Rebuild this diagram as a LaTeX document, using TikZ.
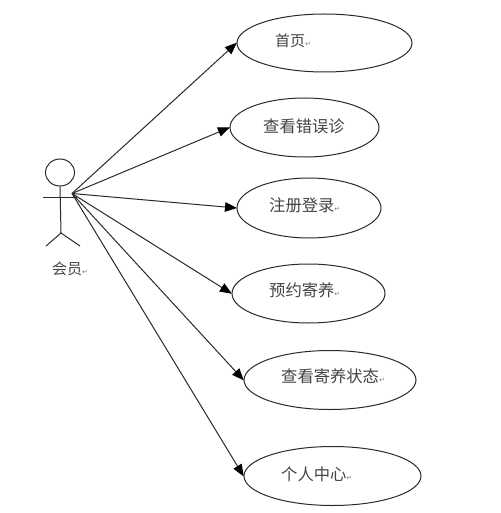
\documentclass[tikz,border=0pt]{standalone}
\usepackage{fontspec}
\setmainfont{Noto Sans CJK SC}
\newfontfamily\markfont{DejaVu Sans}
\usetikzlibrary{shapes.geometric,arrows.meta}
\definecolor{ink}{HTML}{2A2A2A}
\definecolor{txt}{HTML}{444444}
\newcommand{\retmark}{{\markfont\fontsize{7pt}{7pt}\selectfont\textcolor{gray}{↵}}}
\tikzset{
  usecase/.style={ellipse,draw=ink,line width=1pt,fill=white,inner sep=0pt},
  lbl/.style={text=txt,font=\fontsize{16.3pt}{16.3pt}\selectfont,inner sep=0pt,anchor=west},
  lblsmall/.style={lbl,font=\fontsize{15pt}{15pt}\selectfont},
  conn/.style={draw=ink,line width=1pt,-{Triangle[length=12pt,width=9.5pt,color=black]},shorten >=-0.5pt},
  stick/.style={draw=ink,line width=1pt}
}
\begin{document}
\begin{tikzpicture}[x=1pt,y=-1pt]
\useasboundingbox (0,0) rectangle (500,513);
\fill[white] (0,0) rectangle (500,513);
% use cases
\node[usecase,minimum width=175pt,minimum height=58pt] (u1) at (324.5,43) {};
\node[usecase,minimum width=149pt,minimum height=59pt] (u2) at (304.5,127.5) {};
\node[usecase,minimum width=144pt,minimum height=60pt] (u3) at (309,208) {};
\node[usecase,minimum width=153pt,minimum height=59pt] (u4) at (308.5,293.5) {};
\node[usecase,minimum width=172pt,minimum height=59pt] (u5) at (330,380) {};
\node[usecase,minimum width=177pt,minimum height=59pt] (u6) at (332.5,476) {};
% labels
\node[lblsmall] (t1) at (275,41) {首页\retmark};
\node[lbl] (t2) at (263,126) {查看错误诊};
\node[lbl] (t3) at (269,205) {注册登录\retmark};
\node[lbl] (t4) at (269,290) {预约寄养\retmark};
\node[lbl] (t5) at (281,376) {查看寄养状态\retmark};
\node[lbl] (t6) at (281,474) {个人中心\retmark};
\node[lblsmall] (t0) at (52,269) {会员\retmark};
% actor
\node[ellipse,draw=ink,line width=1pt,minimum width=29pt,minimum height=27pt,inner sep=0pt] (head) at (60,172.5) {};
\coordinate (neck) at (head.south);
\coordinate (hip) at (61,233);
\coordinate (armL) at (43,197.5);
\coordinate (armR) at (77,197.5);
\coordinate (legL) at (46,246);
\coordinate (legR) at (80,246);
\coordinate (hub) at (72,193.5);
\draw[stick] (neck) -- (hip);
\draw[stick] (armL) -- (armR);
\draw[stick] (legL) -- (hip) -- (legR);
% connectors
\draw[conn] (hub) -- (u1.west);
\draw[conn] (hub) -- (u2.west);
\draw[conn] (hub) -- (u3.west);
\draw[conn] (hub) -- (u4.west);
\draw[conn] (hub) -- (u5.west);
\draw[conn] (hub) -- (u6.west);
\end{tikzpicture}
\end{document}
